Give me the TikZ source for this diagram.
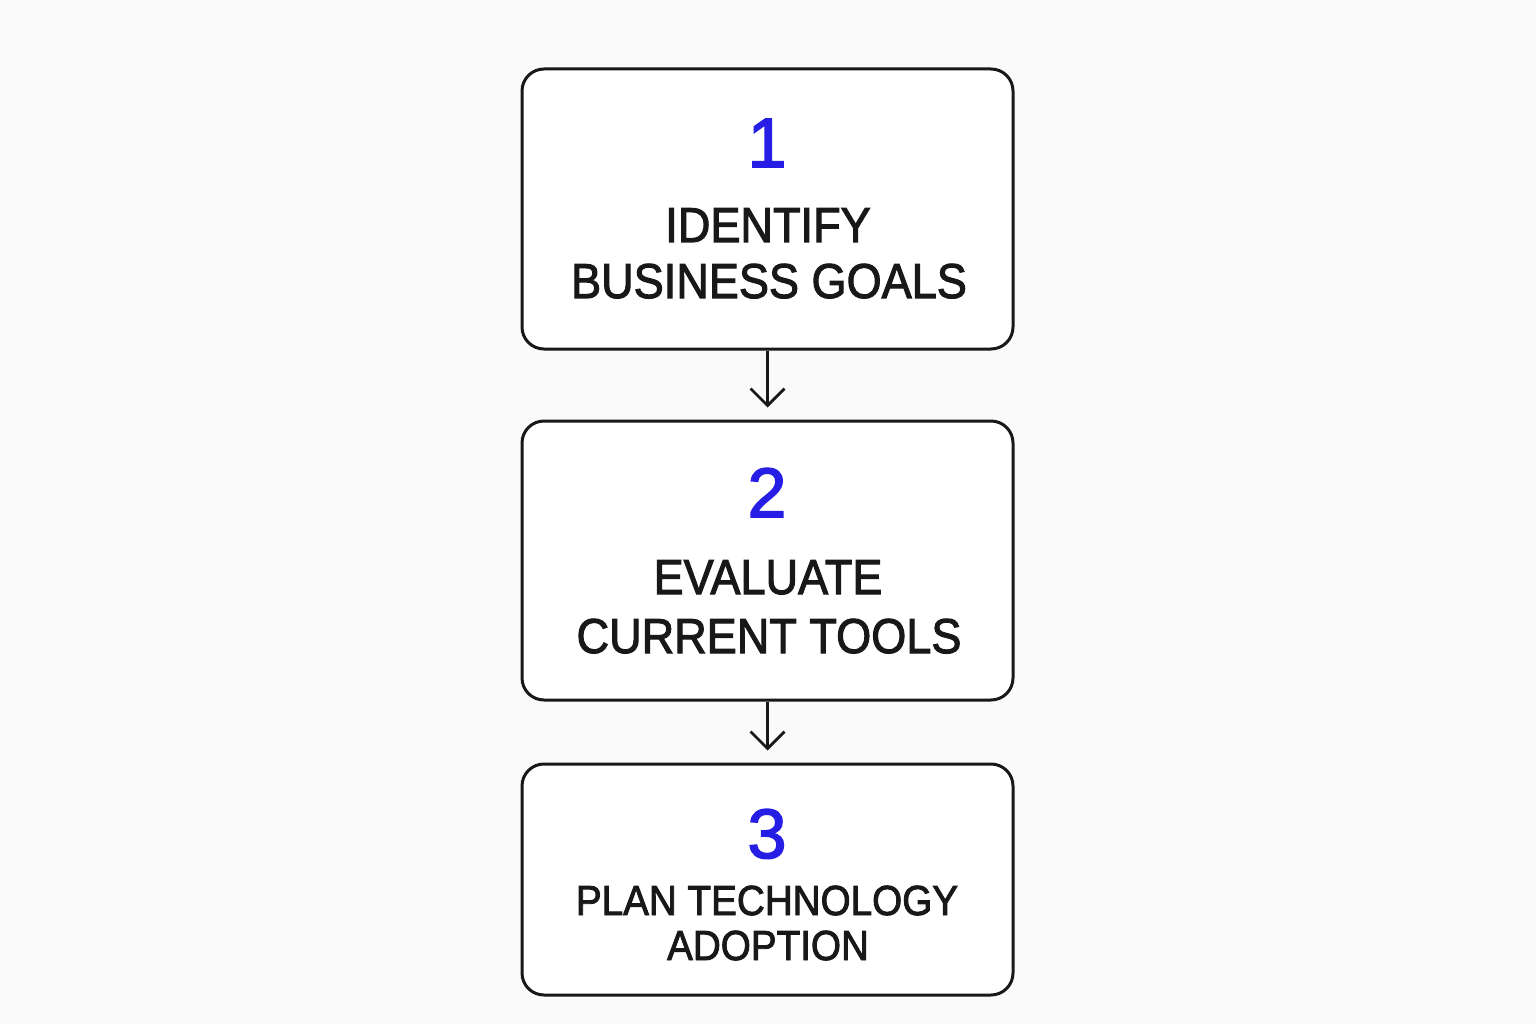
\documentclass[tikz,border=0pt]{standalone}
\usepackage{fontspec}
\setmainfont{Liberation Sans}
\newfontfamily\medfont{Liberation Sans}[UprightFeatures={FakeBold=2.2}]
\usetikzlibrary{arrows.meta}
\definecolor{numblue}{RGB}{38,30,228}
\definecolor{inkblack}{RGB}{24,24,24}
\definecolor{bgcol}{RGB}{250,250,250}
\tikzset{
  stepbox/.style={draw=inkblack, line width=3pt, rounded corners=22pt, fill=white,
    minimum width=491pt, inner sep=0pt},
  numtxt/.style={anchor=base, text=numblue, inner sep=0pt,
    font=\medfont\fontsize{70}{70}\selectfont},
  bigtxt/.style={anchor=base, text=inkblack, inner sep=0pt,
    font=\medfont\fontsize{49}{49}\selectfont},
  smalltxt/.style={anchor=base, text=inkblack, inner sep=0pt,
    font=\medfont\fontsize{42}{42}\selectfont},
  flowarrow/.style={draw=inkblack, line width=2.8pt,
    -{Straight Barb[length=17pt,width=34pt,line width=2.8pt]}, shorten >=12pt},
}
\newcommand{\sq}[1]{\scalebox{0.92}[1]{#1}}
\begin{document}
\begin{tikzpicture}[x=1pt,y=-1pt]
\fill[bgcol] (0,0) rectangle (1536,1024);
\useasboundingbox (0,0) rectangle (1536,1024);
\node[stepbox, minimum height=280pt] (b1) at (767.5,209) {};
\node[stepbox, minimum height=279pt] (b2) at (767.5,560.5) {};
\node[stepbox, minimum height=231pt] (b3) at (767.5,879.5) {};

\node[numtxt] (n1) at (767,167) {1};
\node[bigtxt] (t1a) at (768,242) {\sq{IDENTIFY}};
\node[bigtxt] (t1b) at (769,298) {\sq{BUSINESS GOALS}};

\node[numtxt] (n2) at (767,517) {2};
\node[bigtxt] (t2a) at (768,594) {\sq{EVALUATE}};
\node[bigtxt] (t2b) at (769,653) {\sq{CURRENT TOOLS}};

\node[numtxt] (n3) at (767,858) {3};
\node[smalltxt] (t3a) at (767,915) {\sq{PLAN TECHNOLOGY}};
\node[smalltxt] (t3b) at (768,960) {\sq{ADOPTION}};

\draw[flowarrow] (b1.south) -- (b2.north);
\draw[flowarrow] (b2.south) -- (b3.north);
\end{tikzpicture}
\end{document}
